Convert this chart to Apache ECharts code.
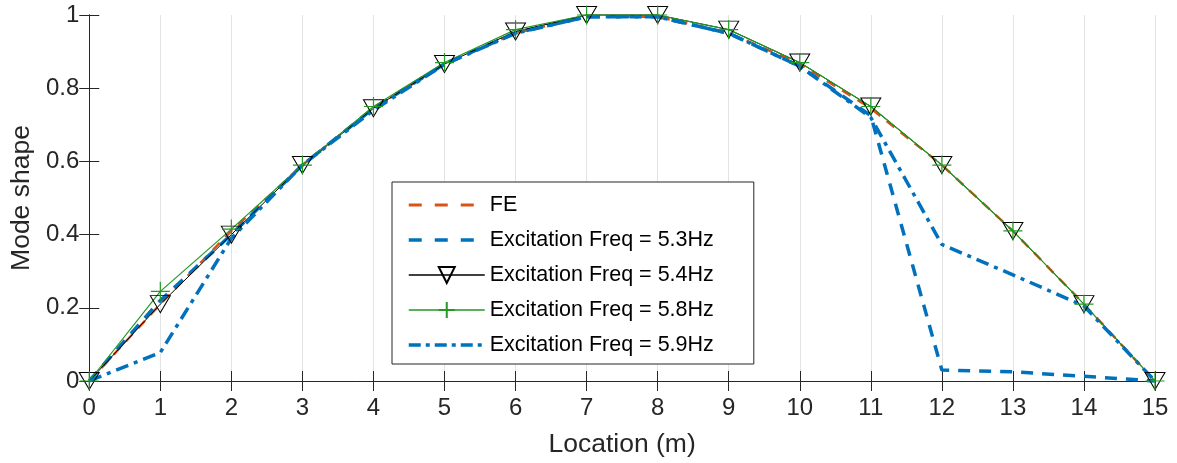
<!DOCTYPE html>
<html>
<head>
<meta charset="utf-8">
<script src="https://cdn.jsdelivr.net/npm/echarts@6/dist/echarts.min.js"></script>
<style>
  html, body { margin: 0; padding: 0; background: #fff; }
  #chart { width: 1177px; height: 463px; }
</style>
</head>
<body>
<div id="chart"></div>
<script>
// Measurement locations along the beam (m)
var locations = [0, 1, 2, 3, 4, 5, 6, 7, 8, 9, 10, 11, 12, 13, 14, 15];

// Normalised mode shape values at each location
var feValues   = [0, 0.21, 0.41, 0.59, 0.745, 0.866, 0.951, 0.995, 0.995, 0.951, 0.866, 0.745, 0.59, 0.41, 0.21, 0];
var freq53     = [0, 0.22, 0.40, 0.59, 0.745, 0.866, 0.951, 0.995, 0.995, 0.95, 0.86, 0.725, 0.03, 0.025, 0.013, 0];
var freq54     = [0, 0.21, 0.40, 0.59, 0.745, 0.866, 0.955, 1.0, 1.0, 0.96, 0.87, 0.75, 0.59, 0.41, 0.21, 0];
var freq58     = [0, 0.245, 0.415, 0.59, 0.75, 0.87, 0.96, 1.0, 1.0, 0.96, 0.87, 0.75, 0.59, 0.41, 0.21, 0];
var freq59     = [0, 0.078, 0.39, 0.59, 0.74, 0.865, 0.95, 0.995, 0.995, 0.95, 0.86, 0.72, 0.373, 0.29, 0.205, 0];

var yTicks = [0, 0.2, 0.4, 0.6, 0.8, 1];

var seriesNames = ['FE', 'Excitation Freq = 5.3Hz', 'Excitation Freq = 5.4Hz',
                   'Excitation Freq = 5.8Hz', 'Excitation Freq = 5.9Hz'];

function pairs(vals) {
  return locations.map(function (x, i) { return [x, vals[i]]; });
}

var txt = '#262626';
var font = '"Liberation Sans", Arial, sans-serif';
var orange = '#D95319';
var blue = '#0072BD';
var green = '#229922';

var chart = echarts.init(document.getElementById('chart'), null, { renderer: 'canvas' });

var plusPath = 'path://M0,-10L0,10M-10,0L10,0';
var hideMarker = { opacity: 0 };

chart.setOption({
  animation: false,
  backgroundColor: '#fff',
  textStyle: { fontFamily: font, color: txt },
  grid: { left: 88, right: 22, top: 15, bottom: 81 },
  legend: {
    orient: 'vertical',
    left: 392,
    top: 182,
    padding: [12, 40, 8, 15],
    backgroundColor: '#fff',
    borderColor: txt,
    borderWidth: 1,
    borderRadius: 0,
    itemWidth: 76,
    itemHeight: 20,
    itemGap: 13,
    textStyle: { fontSize: 21.5, color: '#000', fontFamily: font, lineHeight: 20 },
    data: [
      { name: seriesNames[0], itemStyle: hideMarker,
        lineStyle: { color: orange, width: 3, type: [13, 13] } },
      { name: seriesNames[1], itemStyle: hideMarker,
        lineStyle: { color: blue, width: 3.5, type: [13, 13] } },
      { name: seriesNames[2], lineStyle: { color: '#000', width: 1.5 } },
      { name: seriesNames[3], lineStyle: { color: green, width: 1.5 } },
      { name: seriesNames[4], itemStyle: hideMarker,
        lineStyle: { color: blue, width: 3.5, type: [12, 5, 4, 5] } }
    ]
  },
  xAxis: [{
    type: 'value',
    min: 0, max: 15, interval: 1,
    name: 'Location (m)',
    nameLocation: 'middle',
    nameGap: 50,
    nameTextStyle: { fontSize: 26.5, color: txt, fontFamily: font },
    axisLine: { lineStyle: { color: txt, width: 1 } },
    axisTick: { inside: true, length: 10, lineStyle: { color: txt } },
    axisLabel: { fontSize: 24, color: txt, margin: 15, fontFamily: font },
    splitLine: { show: true, lineStyle: { color: '#e3e3e3', width: 1 } }
  }, {
    type: 'value',
    position: 'top',
    min: 0, max: 15, interval: 1,
    axisLine: { show: true, lineStyle: { color: txt, width: 1 } },
    axisTick: { show: true, inside: true, length: 10, lineStyle: { color: txt } },
    axisLabel: { show: false },
    splitLine: { show: false }
  }],
  yAxis: [{
    type: 'value',
    min: yTicks[0], max: yTicks[yTicks.length - 1], interval: 0.2,
    name: 'Mode shape',
    nameLocation: 'middle',
    nameGap: 50,
    nameTextStyle: { fontSize: 26.5, color: txt, fontFamily: font },
    axisLine: { show: true, lineStyle: { color: txt, width: 1 } },
    axisTick: { show: true, inside: true, length: 10, lineStyle: { color: txt } },
    axisLabel: { fontSize: 24, color: txt, margin: 10, fontFamily: font, padding: [4, 0, 0, 0] },
    splitLine: { show: false }
  }, {
    type: 'value',
    position: 'right',
    min: 0, max: 1, interval: 0.2,
    axisLine: { show: true, lineStyle: { color: txt, width: 1 } },
    axisTick: { show: true, inside: true, length: 10, lineStyle: { color: txt } },
    axisLabel: { show: false },
    splitLine: { show: false }
  }],
  series: [{
    name: seriesNames[0],
    type: 'line',
    data: pairs(feValues),
    symbol: 'none',
    clip: false,
    itemStyle: { color: orange },
    lineStyle: { color: orange, width: 2.5, type: [10, 8] }
  }, {
    name: seriesNames[1],
    type: 'line',
    data: pairs(freq53),
    symbol: 'none',
    clip: false,
    itemStyle: { color: blue },
    lineStyle: { color: blue, width: 3.5, type: [12, 9] }
  }, {
    name: seriesNames[2],
    type: 'line',
    data: pairs(freq54),
    symbol: 'triangle',
    symbolRotate: 180,
    symbolSize: [20, 17],
    clip: false,
    itemStyle: { color: 'rgba(0,0,0,0)', borderColor: '#000', borderWidth: 1 },
    lineStyle: { color: '#000', width: 1 }
  }, {
    name: seriesNames[3],
    type: 'line',
    data: pairs(freq58),
    symbol: plusPath,
    symbolSize: 19,
    clip: false,
    itemStyle: { color: 'rgba(0,0,0,0)', borderColor: green, borderWidth: 1.2 },
    lineStyle: { color: green, width: 1.2 }
  }, {
    name: seriesNames[4],
    type: 'line',
    data: pairs(freq59),
    symbol: 'none',
    clip: false,
    itemStyle: { color: blue },
    lineStyle: { color: blue, width: 3.5, type: [13, 6, 4, 6] }
  }]
});
</script>
</body>
</html>
